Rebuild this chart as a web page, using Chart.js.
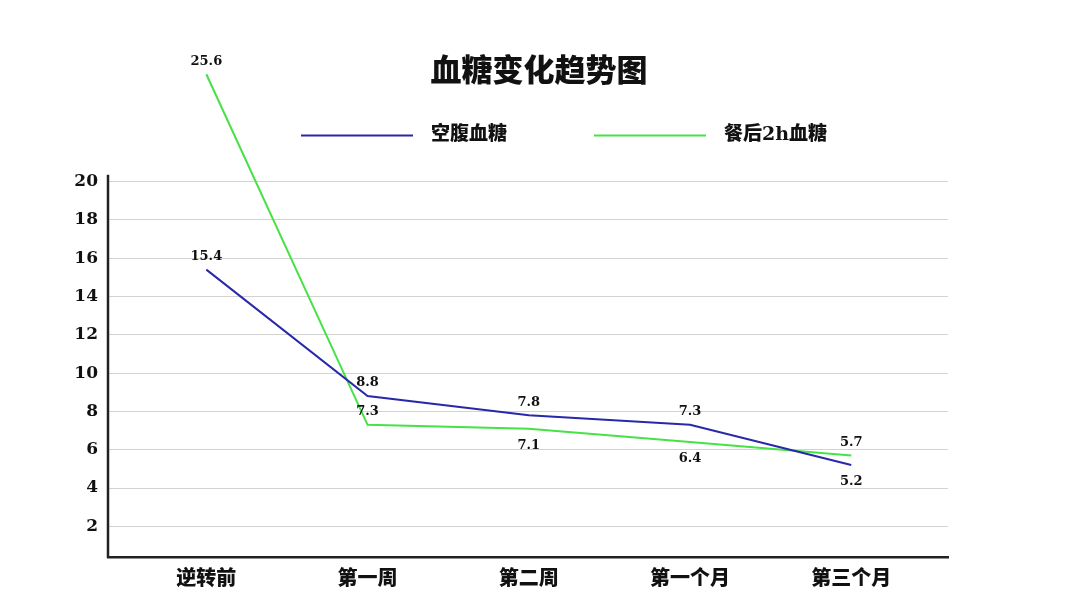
<!DOCTYPE html>
<html>
<head>
<meta charset="utf-8">
<script src="https://cdn.jsdelivr.net/npm/chart.js@4.4.0/dist/chart.umd.min.js"></script>
<style>
  html, body { margin: 0; padding: 0; background: #fff; }
  #wrap { width: 1080px; height: 607px; }
</style>
</head>
<body>
<div id="wrap"><canvas id="bgChart" width="1080" height="607"></canvas></div>
<script>
const chartTitle = '血糖变化趋势图';
const categories = ['逆转前', '第一周', '第二周', '第一个月', '第三个月'];
const seriesNames = ['空腹血糖', '餐后2h血糖'];
const fasting = [15.4, 8.8, 7.8, 7.3, 5.2];
const afterMeal = [25.6, 7.3, 7.1, 6.4, 5.7];
const yTicks = [2, 4, 6, 8, 10, 12, 14, 16, 18, 20];

const NUM_FONT = '"DejaVu Serif", "Noto Sans CJK SC", serif';
const CJK_FONT = '"Noto Sans CJK SC", sans-serif';
const BLUE = '#2828aa';
const GREEN = '#46e246';
const INK = '#111';

// value labels above or below each point
const valueLabels = {
  id: 'valueLabels',
  afterDatasetsDraw(chart) {
    const ctx = chart.ctx;
    ctx.save();
    ctx.font = 'bold 13px ' + NUM_FONT;
    ctx.fillStyle = INK;
    ctx.textAlign = 'center';
    ctx.textBaseline = 'middle';
    chart.data.datasets.forEach((ds, i) => {
      chart.getDatasetMeta(i).data.forEach((pt, j) => {
        const up = ds.labelSide[j] === 'top';
        ctx.fillText(ds.data[j].y.toFixed(1), pt.x, pt.y + (up ? -13 : 17));
      });
    });
    ctx.restore();
  }
};

// title, legend and the short y axis line
const decorations = {
  id: 'decorations',
  beforeDatasetsDraw(chart) {
    const { ctx, scales: { x, y } } = chart;
    ctx.save();
    ctx.strokeStyle = '#222';
    ctx.lineWidth = 2.5;
    ctx.beginPath();
    ctx.moveTo(x.left, y.getPixelForValue(20.35));
    ctx.lineTo(x.left, y.bottom + 1);
    ctx.stroke();
    ctx.restore();
  },
  afterDraw(chart) {
    const ctx = chart.ctx;
    ctx.save();
    ctx.fillStyle = INK;
    ctx.textBaseline = 'middle';
    ctx.textAlign = 'center';
    ctx.font = '900 31px ' + CJK_FONT;
    ctx.fillText(chartTitle, 539, 69);

    const legendX = [301, 594];
    ctx.textAlign = 'left';
    ctx.font = '900 19px ' + NUM_FONT;
    chart.data.datasets.forEach((ds, i) => {
      const lx = legendX[i];
      ctx.strokeStyle = ds.borderColor;
      ctx.lineWidth = 2;
      ctx.beginPath();
      ctx.moveTo(lx, 135.5);
      ctx.lineTo(lx + 112, 135.5);
      ctx.stroke();
      ctx.fillText(ds.label, lx + 130, 135);
    });
    ctx.restore();
  }
};

new Chart(document.getElementById('bgChart'), {
  type: 'line',
  data: {
    datasets: [{
      label: seriesNames[0],
      data: fasting.map((v, i) => ({ x: i, y: v })),
      borderColor: BLUE,
      labelSide: ['top', 'top', 'top', 'top', 'bottom']
    }, {
      label: seriesNames[1],
      data: afterMeal.map((v, i) => ({ x: i, y: v })),
      borderColor: GREEN,
      labelSide: ['top', 'top', 'bottom', 'bottom', 'top']
    }]
  },
  options: {
    responsive: false,
    animation: false,
    layout: { padding: { top: 57, right: 132, bottom: 0, left: 0 } },
    elements: {
      line: { tension: 0, borderWidth: 2, fill: false },
      point: { radius: 0, hoverRadius: 0 }
    },
    plugins: {
      legend: { display: false },
      title: { display: false },
      tooltip: { enabled: false }
    },
    scales: {
      x: {
        type: 'linear',
        min: -0.61,
        max: 4.6,
        afterBuildTicks: s => { s.ticks = categories.map((c, i) => ({ value: i })); },
        afterFit: s => { s.height = 50; },
        ticks: {
          callback: v => categories[v],
          font: { family: CJK_FONT, size: 20, weight: 900 },
          color: INK,
          padding: 0,
          autoSkip: false,
          maxRotation: 0
        },
        grid: { display: false },
        border: { display: true, color: '#222', width: 2.5 }
      },
      y: {
        min: 0.4,
        max: 26.5,
        afterBuildTicks: s => { s.ticks = yTicks.map(v => ({ value: v })); },
        afterFit: s => { s.width = 108; },
        ticks: {
          font: { family: NUM_FONT, size: 17, weight: 'bold' },
          color: INK,
          padding: 10
        },
        grid: { color: '#d2d2d2', lineWidth: 1, drawTicks: false },
        border: { display: false }
      }
    }
  },
  plugins: [valueLabels, decorations]
});
</script>
</body>
</html>
